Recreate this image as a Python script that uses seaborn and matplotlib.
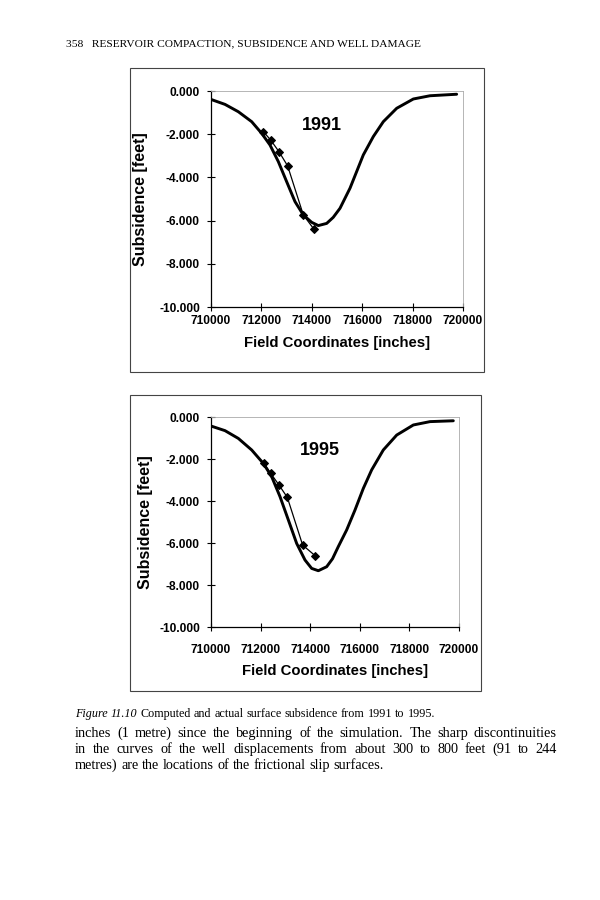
import matplotlib
matplotlib.use("Agg")
import matplotlib.pyplot as plt
import seaborn as sns
import pandas as pd
from matplotlib.patches import Rectangle

# computed subsidence curve, 1991
x_calc_1991 = [710000, 710556, 711085, 711614, 712010, 712341, 712672, 713003, 713333, 713664,
               713995, 714259, 714590, 714850, 715119, 715516, 715780, 716044, 716441, 716838,
               717369, 718029, 718690, 719748]
y_calc_1991 = [-0.39, -0.62, -0.96, -1.42, -1.96, -2.50, -3.27, -4.20, -5.12, -5.74,
               -6.08, -6.23, -6.13, -5.85, -5.43, -4.50, -3.73, -2.96, -2.11, -1.42,
               -0.80, -0.37, -0.22, -0.15]
# measured points, 1991
x_meas_1991 = [712077, 712368, 712698, 713042, 713664, 714087]
y_meas_1991 = [-1.88, -2.27, -2.81, -3.47, -5.74, -6.40]

# computed subsidence curve, 1995
x_calc_1995 = [710000, 710565, 711102, 711640, 712110, 712446, 712782, 713118, 713454, 713790,
               714059, 714328, 714664, 714900, 715134, 715470, 715806, 716142, 716478, 716948,
               717488, 718159, 718831, 719771]
y_calc_1995 = [-0.43, -0.65, -1.02, -1.57, -2.21, -2.84, -3.79, -4.90, -6.02, -6.81,
               -7.21, -7.32, -7.13, -6.75, -6.17, -5.38, -4.43, -3.40, -2.52, -1.57,
               -0.86, -0.38, -0.22, -0.18]
# measured points, 1995
x_meas_1995 = [712137, 712406, 712742, 713078, 713696, 714194]
y_meas_1995 = [-2.21, -2.68, -3.24, -3.83, -6.10, -6.60]

x_ticks = [710000, 712000, 714000, 716000, 718000, 720000]
y_ticks = [0, -2, -4, -6, -8, -10]
y_tick_labels = ["0.000", "-2.000", "-4.000", "-6.000", "-8.000", "-10.000"]

sns.set_theme(style="ticks")
plt.rcParams['font.family'] = ['Liberation Sans', 'DejaVu Sans']
plt.rcParams['text.color'] = 'black'
plt.rcParams['axes.labelcolor'] = 'black'

fig = plt.figure(figsize=(6, 9), dpi=100)


def draw_panel(rect, xc, yc, xm, ym, year, xpad, xlab_y, ylab_x):
    ax = fig.add_axes(rect)
    calc = pd.DataFrame({"x": xc, "y": yc})
    meas = pd.DataFrame({"x": xm, "y": ym})
    sns.lineplot(data=calc, x="x", y="y", sort=False, color="black", linewidth=2.1, ax=ax)
    sns.lineplot(data=meas, x="x", y="y", sort=False, color="black", linewidth=0.9,
                 marker="D", markersize=4.5, markeredgecolor="black", ax=ax)
    ax.set_xlim(710000, 720000)
    ax.set_ylim(-10, 0)
    ax.set_xticks(x_ticks)
    ax.set_xticklabels([str(t) for t in x_ticks], fontsize=8.6, fontweight="bold")
    ax.set_yticks(y_ticks)
    ax.set_yticklabels(y_tick_labels, fontsize=8.6, fontweight="bold")
    ax.tick_params(direction="inout", length=6, width=0.8, colors="black")
    ax.tick_params(axis="y", pad=5)
    ax.tick_params(axis="x", pad=xpad)
    for s in ["left", "bottom"]:
        ax.spines[s].set_color("black")
        ax.spines[s].set_linewidth(0.9)
    for s in ["top", "right"]:
        ax.spines[s].set_color("#aaaaaa")
        ax.spines[s].set_linewidth(0.6)
    ax.set_xlabel("Field Coordinates [inches]", fontsize=10.7, fontweight="bold")
    ax.set_ylabel("Subsidence [feet]", fontsize=11.5, fontweight="bold")
    ax.xaxis.set_label_coords(0.5, xlab_y)
    ax.yaxis.set_label_coords(ylab_x, 0.5)
    ax.text(714400, -1.6, year, fontsize=13, fontweight="bold", ha="center", va="center")
    return ax


draw_panel([211 / 600, 1 - 307 / 900, 252 / 600, 216 / 900],
           x_calc_1991, y_calc_1991, x_meas_1991, y_meas_1991, "1991", 2.5, -0.134, -0.25)
draw_panel([211 / 600, 1 - 627 / 900, 248 / 600, 210 / 900],
           x_calc_1995, y_calc_1995, x_meas_1995, y_meas_1995, "1995", 9, -0.176, -0.234)

# chart area frames
fig.patches.append(Rectangle((130 / 600, 1 - 372 / 900), 354 / 600, 304 / 900,
                             transform=fig.transFigure, fill=False, edgecolor="#444444", linewidth=0.8))
fig.patches.append(Rectangle((130 / 600, 1 - 691 / 900), 351 / 600, 296 / 900,
                             transform=fig.transFigure, fill=False, edgecolor="#444444", linewidth=0.8))

# page text
serif = ['Liberation Serif', 'DejaVu Serif']
renderer = fig.canvas.get_renderer()


def put_line(words, x0, x1, y, size, justify, styles=None):
    texts = []
    for i, w in enumerate(words):
        st = styles[i] if styles else "normal"
        texts.append(fig.text(0, 1 - y / 900, w, fontsize=size, family=serif, style=st, va="baseline"))
    widths = [t.get_window_extent(renderer).width for t in texts]
    if justify and len(words) > 1:
        gap = (x1 - x0 - sum(widths)) / (len(words) - 1)
    else:
        gap = 0.25 * size * 100 / 72
    x = x0
    for t, w in zip(texts, widths):
        t.set_x(x / 600)
        x += w + gap


fig.text(66 / 600, 1 - 46 / 900, "358   RESERVOIR COMPACTION, SUBSIDENCE AND WELL DAMAGE",
         fontsize=8.2, family=serif, va="baseline")

cap_words = "Figure 11.10 Computed and actual surface subsidence from 1991 to 1995.".split()
cap_styles = ["italic", "italic"] + ["normal"] * (len(cap_words) - 2)
put_line(cap_words, 75, 427, 717, 8.7, False, cap_styles)

body = ["inches (1 metre) since the beginning of the simulation. The sharp discontinuities",
        "in the curves of the well displacements from about 300 to 800 feet (91 to 244",
        "metres) are the locations of the frictional slip surfaces."]
for i, line in enumerate(body):
    put_line(line.split(), 75, 557, 737 + 16 * i, 10.3, i < 2)

fig.savefig("out.png", dpi=100)
